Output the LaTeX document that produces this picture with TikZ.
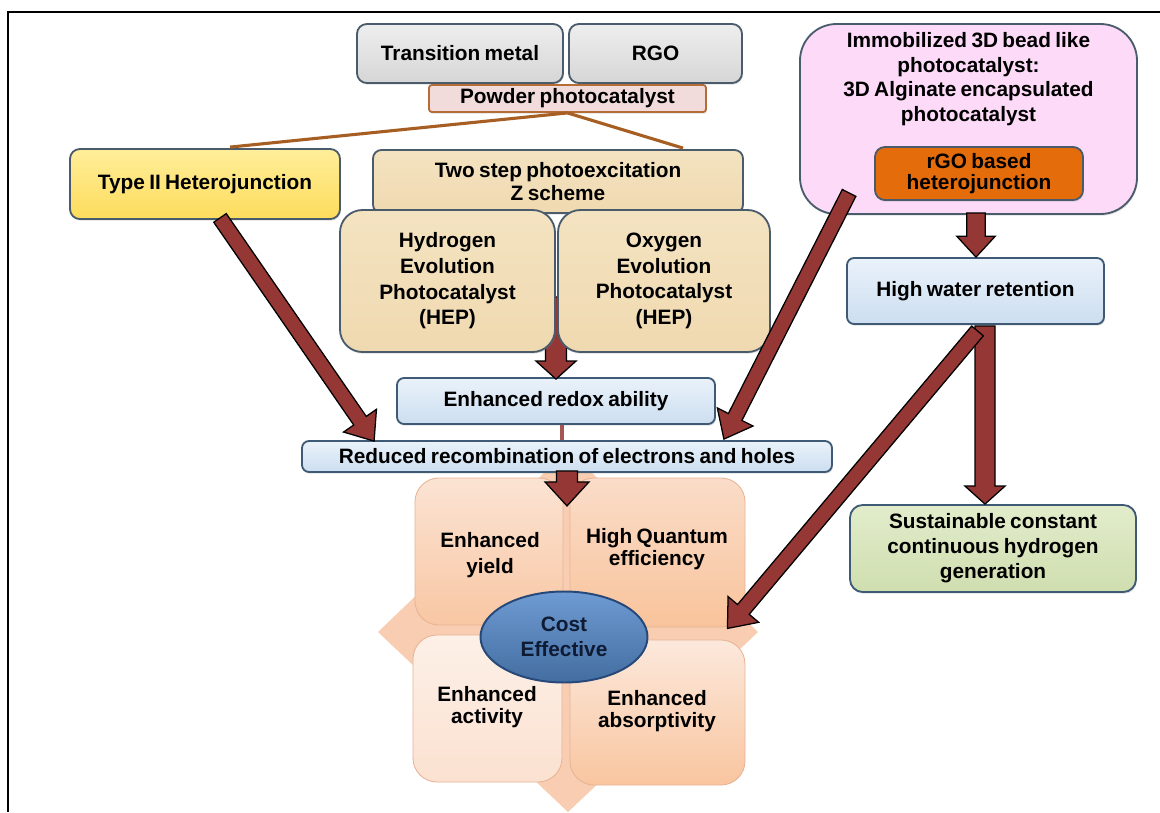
\documentclass[tikz,border=0pt]{standalone}
\usepackage{fontspec}
\setmainfont{Liberation Sans}[WordSpace=0.75]
\usetikzlibrary{calc,shapes.geometric,shadows}
\definecolor{bord}{HTML}{4A5B6C}
\definecolor{bordb}{HTML}{3F5A75}
\definecolor{arrowred}{HTML}{953735}
\definecolor{brownline}{HTML}{A65E22}
\definecolor{graytop}{HTML}{EEEEEE}
\definecolor{graybot}{HTML}{D6D6D6}
\definecolor{powderfill}{HTML}{F2DCDB}
\definecolor{powderbord}{HTML}{B66D35}
\definecolor{yellowtop}{HTML}{FFEE9A}
\definecolor{yellowbot}{HTML}{FDDC5C}
\definecolor{parch}{HTML}{F4E3C1}
\definecolor{parchbot}{HTML}{EFD9B0}
\definecolor{pinkfill}{HTML}{FCDAF8}
\definecolor{orangefill}{HTML}{E46C0A}
\definecolor{bluetop}{HTML}{EAF2FA}
\definecolor{bluebot}{HTML}{CCDEF0}
\definecolor{greentop}{HTML}{E2ECCB}
\definecolor{greenbot}{HTML}{CFDEAF}
\definecolor{diamondfill}{HTML}{F8CDB1}
\definecolor{quadbord}{HTML}{E7B496}
\definecolor{ellfill}{HTML}{4F81BD}
\definecolor{elltop}{HTML}{6E9BD3}
\definecolor{ellbord}{HTML}{27497A}
\definecolor{elltext}{HTML}{0E1B33}
\def\pxu{*0.025cm}
\tikzset{
  txt/.style={font=\bfseries\fontsize{14.8}{18.3}\selectfont, align=center, text=black},
  lead/.style={font=\bfseries\fontsize{14.8}{#1}\selectfont},
  base/.style={txt, draw=bord, line width=1.3pt, inner sep=0pt,
    drop shadow={shadow xshift=0.6pt, shadow yshift=-1.2pt, opacity=0.25}},
  gbox/.style={base, rounded corners=7pt, top color=graytop, bottom color=graybot},
  powbox/.style={base, draw=powderbord, rounded corners=2pt, fill=powderfill},
  ybox/.style={base, rounded corners=7pt, top color=yellowtop, bottom color=yellowbot},
  pbox/.style={base, rounded corners=6pt, top color=parch, bottom color=parchbot},
  pbigbox/.style={base, rounded corners=16pt, top color=parch, bottom color=parchbot},
  bbox/.style={base, draw=bordb, rounded corners=5pt, top color=bluetop, bottom color=bluebot},
  pinkbox/.style={base, draw=bord, rounded corners=26pt, fill=pinkfill},
  obox/.style={base, rounded corners=7pt, fill=orangefill},
  grbox/.style={base, draw=bordb, rounded corners=9pt, top color=greentop, bottom color=greenbot},
  quad/.style={txt, draw=quadbord, line width=0.6pt, rounded corners=17pt, inner sep=0pt},
  fat/.style={fill=arrowred, draw=black, line width=0.9pt, line join=miter},
  brown/.style={draw=brownline, line width=2.2pt},
}
% fat block arrow: start, end, shaft half width, head half width, head length
\newcommand{\fatarrow}[5]{%
  \path ($(#2)!#5!(#1)$) coordinate (fah);
  \draw[fat] ($(#1)!#3!90:(#2)$) -- ($(fah)!#3!90:(#2)$) -- ($(fah)!#4!90:(#2)$) -- (#2)
    -- ($(fah)!#4!-90:(#2)$) -- ($(fah)!#3!-90:(#2)$) -- ($(#1)!#3!-90:(#2)$) -- cycle;
}
\begin{document}
\begin{tikzpicture}[x=0.025cm,y=-0.025cm]
\useasboundingbox (0,0) rectangle (1160,812);
\fill[white] (0,0) rectangle (1160,812);
% frame
\coordinate (frbl) at (8,812);
\coordinate (frtl) at (8,12);
\coordinate (frtr) at (1160,12);
\draw[line width=1.8pt] (frbl) -- (frtl) -- (frtr);

% bottom cluster (drawn first, under the bars)
\coordinate (dl) at (378,632);
\coordinate (dt) at (568,450);
\coordinate (dr) at (758,632);
\coordinate (db) at (568,812);
\fill[diamondfill] (dl) -- (dt) -- (dr) -- (db) -- cycle;
\node[quad, top color=diamondfill!55!white, bottom color=diamondfill!92!orange, minimum width=148\pxu, minimum height=147\pxu] (q1) at (489,551.5) {};
\node[quad, top color=diamondfill!70!white, bottom color=diamondfill!88!orange, minimum width=175\pxu, minimum height=149\pxu] (q2) at (657.5,552.5) {};
\node[quad, top color=diamondfill!30!white, bottom color=diamondfill!60!white, minimum width=149\pxu, minimum height=147\pxu] (q3) at (487.5,708.5) {};
\node[quad, top color=diamondfill!45!white, bottom color=diamondfill!90!orange, minimum width=175\pxu, minimum height=145\pxu] (q4) at (657.5,712.5) {};
\node[txt, lead=18pt] (q1t) at (490,555) {Enhanced\\yield};
\node[txt, lead=15.5pt] (q2t) at (657,549) {High Quantum\\efficiency};
\node[txt, lead=15.5pt] (q3t) at (487,707) {Enhanced\\activity};
\node[txt, lead=15.5pt] (q4t) at (657,711) {Enhanced\\absorptivity};
\node[ellipse, draw=ellbord, line width=1.4pt, top color=elltop, bottom color=ellfill!85!black,
  minimum width=167\pxu, minimum height=91\pxu, inner sep=0pt, txt, lead=17.5pt, text=elltext] (cost) at (564,637) {Cost\\Effective};

% top row
\node[gbox, minimum width=206\pxu, minimum height=59\pxu] (tm) at (460,53.5) {Transition metal};
\node[gbox, minimum width=173\pxu, minimum height=59\pxu] (rgo) at (655.5,53.5) {RGO};
\node[powbox, minimum width=277\pxu, minimum height=27\pxu] (pow) at (567.5,98.5) {Powder photocatalyst};

% left/middle boxes
\node[ybox, minimum width=270\pxu, minimum height=70\pxu] (t2) at (205,184) {Type II Heterojunction};
\node[pbox, lead=16.5pt, minimum width=370\pxu, minimum height=63\pxu] (zs) at (558,181.5) {Two step photoexcitation\\Z scheme};

% brown connectors
\draw[brown] (pow.south) -- ($(t2.north)+(25,-1)$);
\draw[brown] (pow.south) -- ($(zs.north)+(125,-1)$);

\node[bbox, minimum width=318\pxu, minimum height=46\pxu] (redox) at (556,401) {Enhanced redox ability};
\node[bbox, minimum width=530\pxu, minimum height=31\pxu] (red) at (567,456.5) {Reduced recombination of electrons and holes};

% arrow between HEP/OEP to redox (under boxes)
\coordinate (a6s) at ($(redox.north)+(0,-80)$);
\coordinate (a6e) at ($(redox.north)+(0,2)$);
\fatarrow{a6s}{a6e}{0.26cm}{0.5cm}{0.45cm}

\node[pbigbox, minimum width=215\pxu, minimum height=142\pxu] (hep) at (447.5,281) {Hydrogen\\Evolution\\Photocatalyst\\(HEP)};
\node[pbigbox, minimum width=212\pxu, minimum height=142\pxu] (oep) at (664,281) {Oxygen\\Evolution\\Photocatalyst\\(HEP)};

% thin link redox -> reduced
\draw[draw=arrowred!85!white, line width=2.6pt] ($(redox.south)+(6,0)$) -- ($(red.north)+(-5,0)$);

% right column
\node[pinkbox, minimum width=337\pxu, minimum height=190\pxu] (imm) at (968.5,119) {};
\node[txt, lead=17.6pt] (immt) at (968.5,79) {Immobilized 3D bead like\\photocatalyst:\\3D Alginate encapsulated\\photocatalyst};
\node[obox, lead=15pt, minimum width=208\pxu, minimum height=53\pxu] (rgoh) at (979,173.5) {rGO based\\heterojunction};
\node[bbox, minimum width=257\pxu, minimum height=66\pxu] (hwr) at (975.5,291) {High water retention};
\node[grbox, lead=17.8pt, minimum width=286\pxu, minimum height=87\pxu] (sus) at (993,548.5) {Sustainable constant\\continuous hydrogen\\generation};

% fat arrows
\coordinate (a1s) at ($(t2.south)+(15,-2)$);
\coordinate (a1e) at ($(red.north west)+(73,1)$);
\fatarrow{a1s}{a1e}{0.19cm}{0.5cm}{0.62cm}

\coordinate (a2s) at ($(imm.south west)+(50,-22)$);
\coordinate (a2e) at ($(red.north east)+(-109,-1)$);
\fatarrow{a2s}{a2e}{0.19cm}{0.5cm}{0.62cm}

\coordinate (a3s) at ($(rgoh.south)+(-3,12)$);
\coordinate (a3e) at ($(hwr.north)+(0.5,0)$);
\fatarrow{a3s}{a3e}{0.23cm}{0.48cm}{0.52cm}

\coordinate (a4s) at ($(hwr.south)+(9.5,1)$);
\coordinate (a4e) at ($(sus.north)+(-8,0)$);
\fatarrow{a4s}{a4e}{0.25cm}{0.5cm}{0.45cm}

\coordinate (a5s) at ($(hwr.south)+(2,6)$);
\coordinate (a5e) at ($(q2.south east)+(-18,1)$);
\fatarrow{a5s}{a5e}{0.19cm}{0.5cm}{0.62cm}

\coordinate (a7s) at ($(red.south)+(0,-2)$);
\coordinate (a7e) at ($(red.south)+(0,33)$);
\fatarrow{a7s}{a7e}{0.26cm}{0.55cm}{0.6cm}
\end{tikzpicture}
\end{document}
